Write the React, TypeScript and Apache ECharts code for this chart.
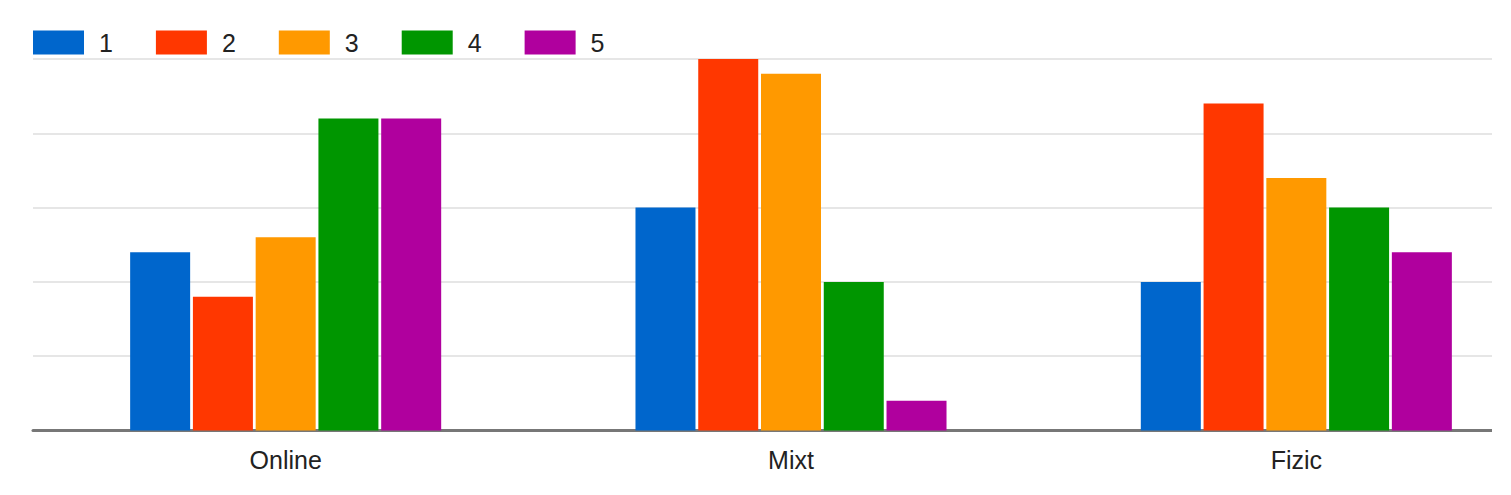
import React, { useEffect, useRef } from "react";
import * as echarts from "echarts";

const categories = ["Online", "Mixt", "Fizic"];
const seriesNames = ["1", "2", "3", "4", "5"];
const s1 = [12, 15, 10];
const s2 = [9, 25, 22];
const s3 = [13, 24, 17];
const s4 = [21, 10, 15];
const s5 = [21, 2, 12];
const seriesValues = [s1, s2, s3, s4, s5];
const colors = ["#0066cc", "#ff3700", "#ff9900", "#009600", "#b0009e"];

export default function App() {
  const ref = useRef<HTMLDivElement>(null);
  useEffect(() => {
    if (!ref.current) return;
    const chart = echarts.init(ref.current, null, { renderer: "svg" });
    const font = "'Liberation Sans', Arial, sans-serif";
    chart.setOption({
      animation: false,
      color: colors,
      textStyle: { fontFamily: font },
      legend: {
        left: 28,
        top: 25,
        icon: "rect",
        itemWidth: 51,
        itemHeight: 24,
        itemGap: 43,
        textStyle: {
          fontSize: 25,
          color: "#222",
          fontFamily: font,
          padding: [0, 0, 0, 10],
        },
        data: seriesNames,
      },
      grid: {
        left: 33,
        top: 59,
        bottom: 64.5,
        right: -38,
        containLabel: false,
        outerBoundsMode: "none",
      },
      xAxis: {
        type: "category",
        data: categories,
        axisTick: { show: false },
        axisLine: { lineStyle: { color: "#777", width: 3 } },
        axisLabel: { fontSize: 25, color: "#222", margin: 17, fontFamily: font },
      },
      yAxis: {
        type: "value",
        min: 0,
        max: 25,
        interval: 5,
        axisLabel: { show: false },
        axisLine: { show: false },
        axisTick: { show: false },
        splitLine: { lineStyle: { color: "#e6e6e6", width: 2 } },
      },
      series: seriesNames.map((n, i) => ({
        name: n,
        type: "bar",
        data: seriesValues[i],
        barWidth: 60,
        barGap: "4.6%",
      })),
      graphic: [
        {
          type: "rect",
          left: 1492,
          top: 55,
          shape: { width: 40, height: 390 },
          style: { fill: "#ffffff" },
          z: 100,
        },
      ],
    });
    return () => chart.dispose();
  }, []);
  return <div ref={ref} style={{ width: 1511, height: 495, margin: -8 }} />;
}
